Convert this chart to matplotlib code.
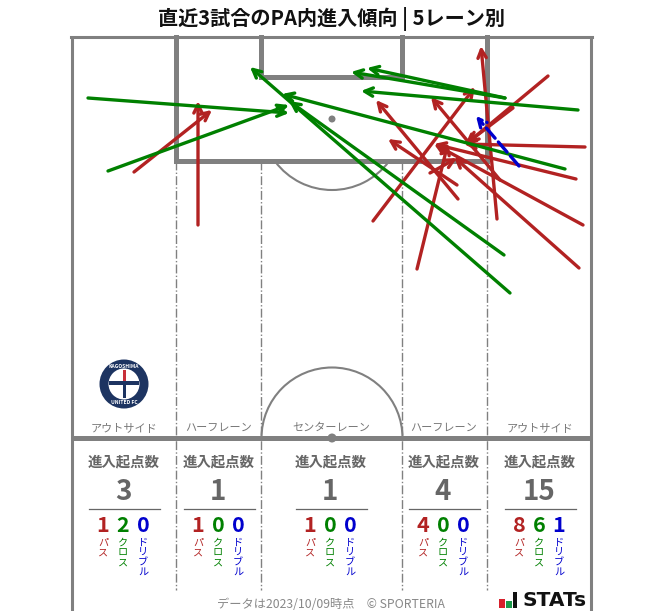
import matplotlib
matplotlib.use("Agg")
import matplotlib.pyplot as plt
from matplotlib.patches import Circle, Arc, Rectangle

plt.rcParams['font.family'] = ['Noto Sans CJK JP', 'DejaVu Sans']

lanes = ["アウトサイド", "ハーフレーン", "センターレーン", "ハーフレーン", "アウトサイド"]
lane_x = [124, 219, 331, 444, 540]
totals = [3, 1, 1, 4, 15]
passes = [1, 1, 1, 4, 8]
crosses = [2, 0, 0, 0, 6]
dribbles = [0, 0, 0, 0, 1]

# start x, start y, end x, end y (picture pixels)
red_arrows = [
    (134, 172, 212, 110), (198, 225, 198, 101), (373, 221, 475, 87),
    (458, 199, 376, 100), (457, 185, 388, 139), (417, 269, 448, 143),
    (430, 173, 457, 158), (497, 219, 481, 46), (548, 76, 465, 145),
    (585, 147, 464, 144), (576, 179, 434, 144), (583, 225, 434, 144),
    (579, 268, 454, 157), (500, 180, 431, 97), (513, 108, 467, 143),
]
green_arrows = [
    (88, 98, 289, 113), (108, 171, 289, 105), (505, 98, 351, 72),
    (505, 98, 367, 68), (578, 110, 361, 91), (565, 169, 282, 94),
    (504, 255, 289, 101), (510, 293, 250, 67),
]
blue_arrows = [(519, 166, 476, 116)]

RED = "#b22222"
GREEN = "#008000"
BLUE = "#0000cd"
LINE = "#808080"
TXT = "#666666"

fig = plt.figure(figsize=(6.63, 6.11), dpi=100)
ax = fig.add_axes([0, 0, 1, 1])
ax.set_xlim(0, 663)
ax.set_ylim(611, 0)
ax.axis("off")

# pitch
ax.plot([72, 72], [37, 611], color=LINE, lw=2.2, solid_capstyle="butt")
ax.plot([591, 591], [37, 611], color=LINE, lw=2.2, solid_capstyle="butt")
ax.plot([71, 592], [37, 37], color=LINE, lw=2.2)
ax.plot([72, 591], [438, 438], color=LINE, lw=3.6, solid_capstyle="butt")
ax.plot([176, 176, 487, 487], [37, 161, 161, 37], color=LINE, lw=3.6, solid_joinstyle="miter")
ax.plot([261, 261, 402, 402], [37, 77, 77, 37], color=LINE, lw=3.6, solid_joinstyle="miter")
for x in [176, 261, 402, 487]:
    ax.plot([x, x], [161, 590], color=LINE, lw=1, ls="-.")
ax.add_patch(Arc((332, 119), 142, 142, theta1=37, theta2=143, color=LINE, lw=1.5))
ax.add_patch(Arc((332, 438), 141, 141, theta1=180, theta2=360, color=LINE, lw=1.5))
ax.add_patch(Circle((332, 119), 3.5, color=LINE, lw=0))
ax.add_patch(Circle((332, 438), 4.5, color=LINE, lw=0))


def draw_arrows(rows, color, ls="-"):
    for x0, y0, x1, y1 in rows:
        ax.annotate("", xy=(x1, y1), xytext=(x0, y0),
                    arrowprops=dict(arrowstyle="->", color=color, lw=2.4, ls=ls,
                                    mutation_scale=15, shrinkA=0, shrinkB=0))


draw_arrows(red_arrows, RED)
draw_arrows(green_arrows, GREEN)
draw_arrows(blue_arrows, BLUE, ls=(0, (4, 1.5)))

# crest
ax.add_patch(Circle((124, 384), 24.5, color="#1d3461", lw=0))
ax.add_patch(Circle((124, 384), 15.5, color="white", lw=0))
ax.add_patch(Rectangle((109, 381), 30, 4, color="#1d3461", lw=0))
ax.add_patch(Rectangle((122.5, 370), 3, 11, color="#c8303a", lw=0))
ax.add_patch(Rectangle((122.5, 385), 3, 13, color="#1d3461", lw=0))
ax.text(124, 366, "KAGOSHIMA", color="white", fontsize=3.6, fontweight="bold", ha="center", va="center")
ax.text(124, 403, "UNITED FC", color="white", fontsize=3.6, fontweight="bold", ha="center", va="center")

ax.text(331, 19, "直近3試合のPA内進入傾向 | 5レーン別", fontsize=14.5, fontweight="bold",
        color="#111111", ha="center", va="center")

for i in range(5):
    x = lane_x[i]
    ax.text(x, 428, lanes[i], fontsize=8, color="#777777", ha="center", va="center")
    ax.text(x, 462, "進入起点数", fontsize=10.4, fontweight="bold", color=TXT, ha="center", va="center")
    ax.text(x - 1, 492, str(totals[i]), fontsize=20, fontweight="bold", color=TXT, ha="center", va="center")
    ax.plot([x - 35.5, x + 35.5], [508.5, 508.5], color=TXT, lw=0.9)
    cols = [(passes[i], "パス", RED, -21), (crosses[i], "クロス", GREEN, -1), (dribbles[i], "ドリブル", BLUE, 19)]
    for val, name, c, dx in cols:
        ax.text(x + dx, 526, str(val), fontsize=15.5, fontweight="bold", color=c, ha="center", va="center")
        ax.text(x + dx, 538, "\n".join(name), fontsize=7.3, color=c, ha="center", va="top", linespacing=0.95)

ax.text(331, 604, "データは2023/10/09時点　© SPORTERIA", fontsize=8.8, color="#888888", ha="center", va="center")

# STATs logo
ax.add_patch(Rectangle((499, 599), 6, 9, color="#d7202c", lw=0))
ax.add_patch(Rectangle((506, 601), 6, 7, color="#1a9a4a", lw=0))
ax.add_patch(Rectangle((513, 592), 4, 16, color="#111111", lw=0))
ax.text(522, 601, "STATs", fontsize=14.5, fontweight="bold", color="#111111", ha="left", va="center",
        family="DejaVu Sans")

fig.savefig("out.png", dpi=100)
